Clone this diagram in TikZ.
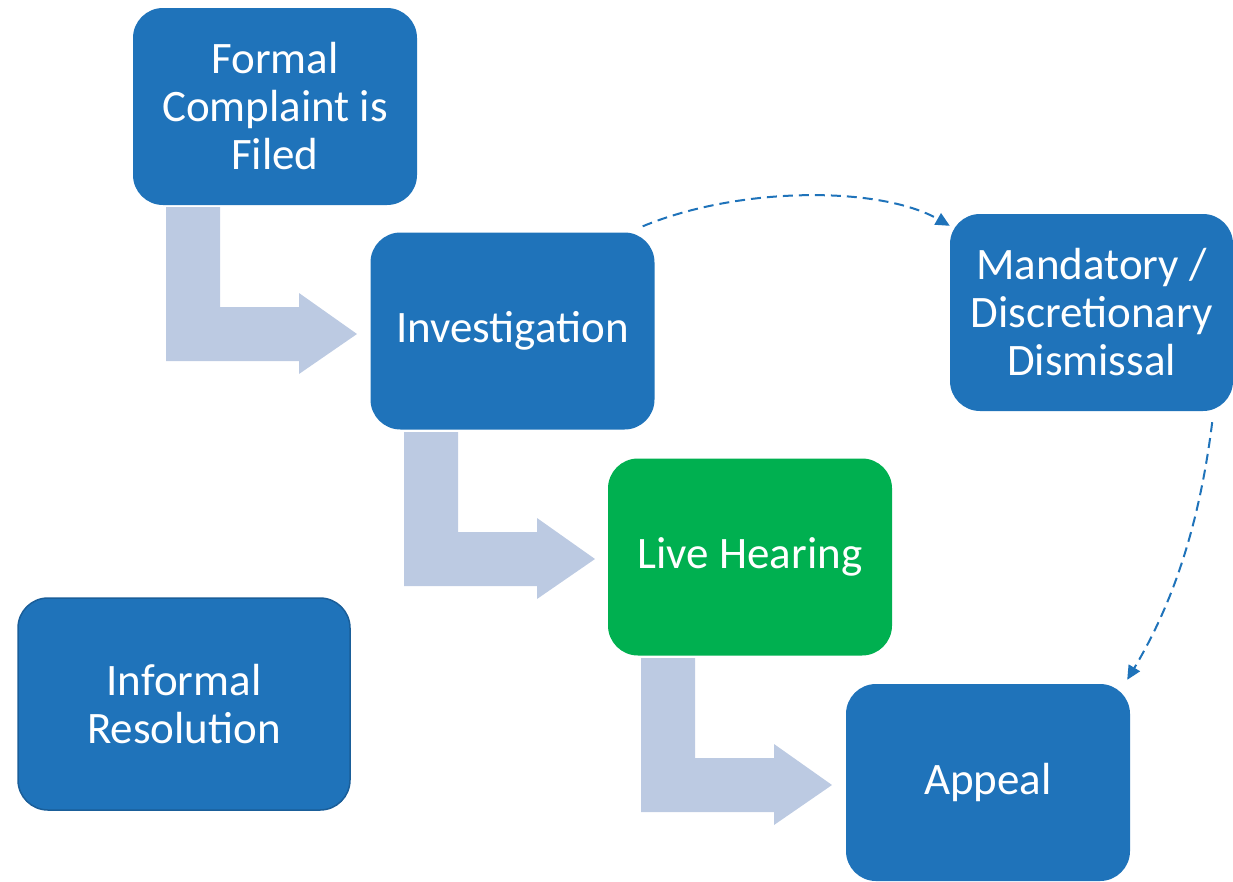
\documentclass[tikz,border=0pt]{standalone}
\usepackage{fontspec}
\setmainfont{Carlito}
\usepackage{tikz}
\usetikzlibrary{arrows.meta}
\definecolor{boxblue}{HTML}{1F73BA}
\definecolor{boxline}{HTML}{1A5E99}
\definecolor{heargreen}{HTML}{00B050}
\definecolor{bendblue}{HTML}{BCCAE2}

\begin{document}
\begin{tikzpicture}[x=1pt, y=-1pt,
	box/.style={fill=boxblue, draw=none, rounded corners=30pt, text=white, align=center,
		minimum width=284pt, minimum height=197pt, inner sep=0pt,
		font=\fontsize{45}{48}\selectfont},
	dashlink/.style={draw=boxblue, line width=2pt, dash pattern=on 10pt off 6pt,
		-{Triangle[length=14pt,width=13pt]}}]
	\useasboundingbox (0,0) rectangle (1233,881);
	\foreach \dx/\dy in {0/0, 238/225, 475/451}
		\fill[bendblue, shift={(166+\dx,207+\dy)}] (0,0) -- (54,0) -- (54,100) -- (133,100) -- (133,86)
			-- (191,127) -- (133,167) -- (133,154) -- (0,154) -- cycle;
	\node[box] (formal) at (275,106.5) {Formal\\Complaint is\\Filed};
	\node[box] (inv) at (512.5,331) {Investigation};
	\node[box, minimum width=283pt] (mand) at (1091.5,312.5) {Mandatory /\\Discretionary\\Dismissal};
	\node[box, fill=heargreen] (live) at (750,557) {Live Hearing};
	\node[box, draw=boxline, line width=1.5pt, minimum width=332pt, minimum height=212pt] (informal) at (184,704) {Informal\\Resolution};
	\node[box] (appeal) at (988,782.5) {Appeal};
	\draw[dashlink] ([xshift=-12pt,yshift=6pt]inv.north east) .. controls (740,186) and (880,186) .. ([yshift=-12pt]mand.north west);
	\draw[dashlink] ([xshift=-21pt,yshift=-11pt]mand.south east) .. controls (1200,520) and (1175,600) .. ([xshift=-3pt,yshift=4pt]appeal.north east);
\end{tikzpicture}
\end{document}
